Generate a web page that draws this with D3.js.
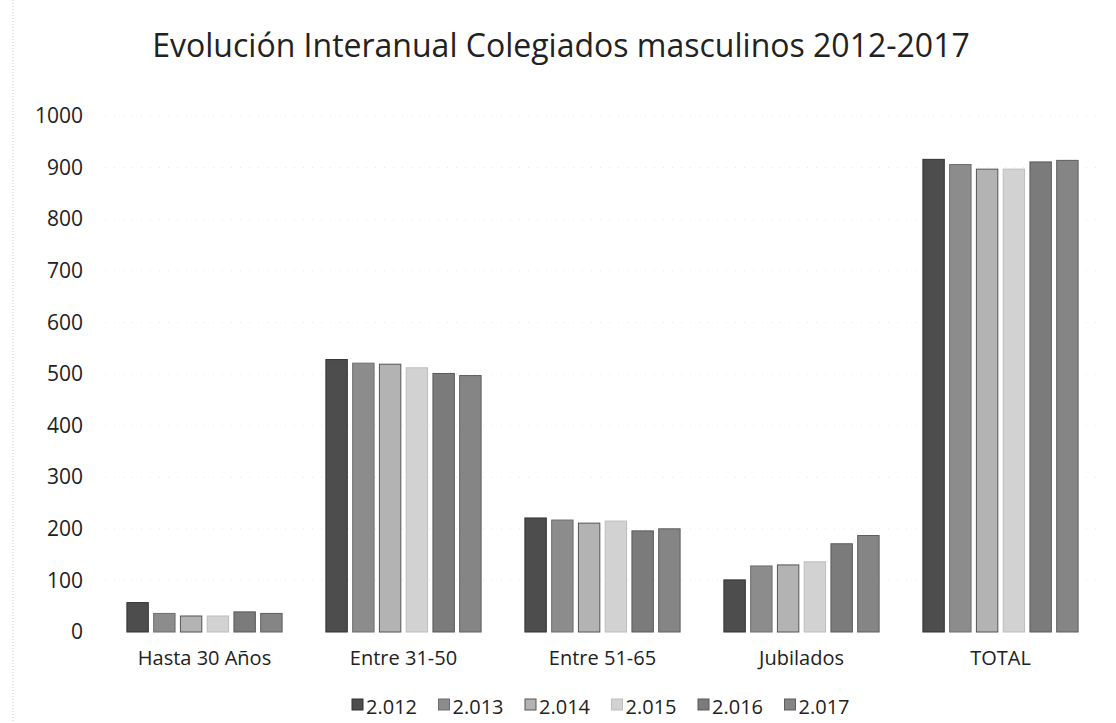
<!DOCTYPE html>
<html><head><meta charset="utf-8">
<script src="https://cdn.jsdelivr.net/npm/d3@7"></script>
<style>body{margin:0;background:#fff;}svg{display:block;font-family:"Open Sans",sans-serif;}</style>
</head><body><svg id="c" width="1116" height="723"></svg>
<script>
const categories = ["Hasta 30 Años","Entre 31-50","Entre 51-65","Jubilados","TOTAL"];
const seriesNames = ["2.012","2.013","2.014","2.015","2.016","2.017"];
const s2012 = [57, 528, 221, 101, 916];
const s2013 = [36, 521, 217, 128, 906];
const s2014 = [31, 519, 211, 130, 897];
const s2015 = [31, 512, 215, 136, 897];
const s2016 = [39, 501, 196, 171, 911];
const s2017 = [36, 497, 200, 187, 914];
const yTicks = [0,100,200,300,400,500,600,700,800,900,1000];
const title = "Evolución Interanual Colegiados masculinos 2012-2017";

const seriesValues = [s2012,s2013,s2014,s2015,s2016,s2017];
const colors = ["#4d4d4d","#8c8c8c","#b3b3b3","#d2d2d2","#7b7b7b","#858585"];
const strokes = ["#333","#6e6e6e","#555","#bdbdbd","#5a5a5a","#5e5e5e"];

const svg = d3.select("#c");
const m = {left:105, right:1100, top:116, bottom:632};
const x = d3.scaleBand().domain(categories).range([m.left,m.right]).paddingInner(0.22).paddingOuter(0.11);
const xs = d3.scaleBand().domain(seriesNames).range([0,x.bandwidth()]).paddingInner(0.2);
const y = d3.scaleLinear().domain([0,1000]).range([m.bottom,m.top]);

// faint scan edge
svg.append("line").attr("x1",13).attr("x2",13).attr("y1",0).attr("y2",723)
  .attr("stroke","#c8c8c8").attr("stroke-dasharray","1,2");

// gridlines (very faint)
svg.append("g").selectAll("line").data(yTicks.slice(1)).join("line")
  .attr("x1",m.left).attr("x2",m.right).attr("y1",d=>y(d)).attr("y2",d=>y(d))
  .attr("stroke","#e8e8e8").attr("stroke-dasharray","1,8");

// title
svg.append("text").attr("x",561).attr("y",57).attr("text-anchor","middle")
  .attr("font-size",32).attr("fill","#222").text(title);

// y axis
const yAxis = d3.axisLeft(y).tickValues(yTicks).tickFormat(d3.format("d")).tickSize(0).tickPadding(0);
const gy = svg.append("g").attr("transform",`translate(83,0)`).call(yAxis);
gy.select(".domain").remove();
gy.selectAll("text").attr("font-size",21).attr("fill","#222").attr("font-family","'Open Sans',sans-serif");

// x axis
const xAxis = d3.axisBottom(x).tickSize(0).tickPadding(0);
const gx = svg.append("g").attr("transform",`translate(0,${m.bottom+19})`).call(xAxis);
gx.select(".domain").remove();
gx.selectAll("text").attr("font-size",20).attr("fill","#222").attr("font-family","'Open Sans',sans-serif");

// bars
const groups = svg.append("g").selectAll("g").data(seriesNames).join("g");
groups.each(function(s,si){
  d3.select(this).selectAll("rect").data(categories.map((c,ci)=>({c, v:seriesValues[si][ci]})))
    .join("rect")
    .attr("x",d=>x(d.c)+xs(s)).attr("width",xs.bandwidth())
    .attr("y",d=>y(d.v)).attr("height",d=>y(0)-y(d.v))
    .attr("fill",colors[si]).attr("stroke",strokes[si]).attr("stroke-width",1);
});

// legend
const legItemW = 86.5;
const legX0 = 352;
const leg = svg.append("g").selectAll("g").data(seriesNames).join("g")
  .attr("transform",(d,i)=>`translate(${legX0+i*legItemW},708)`);
leg.append("rect").attr("x",0).attr("y",-9).attr("width",11).attr("height",11)
  .attr("fill",(d,i)=>colors[i]).attr("stroke",(d,i)=>strokes[i]);
leg.append("text").attr("x",14).attr("y",0).attr("dy","0.3em").attr("font-size",20).attr("fill","#222").text(d=>d);
</script></body></html>
